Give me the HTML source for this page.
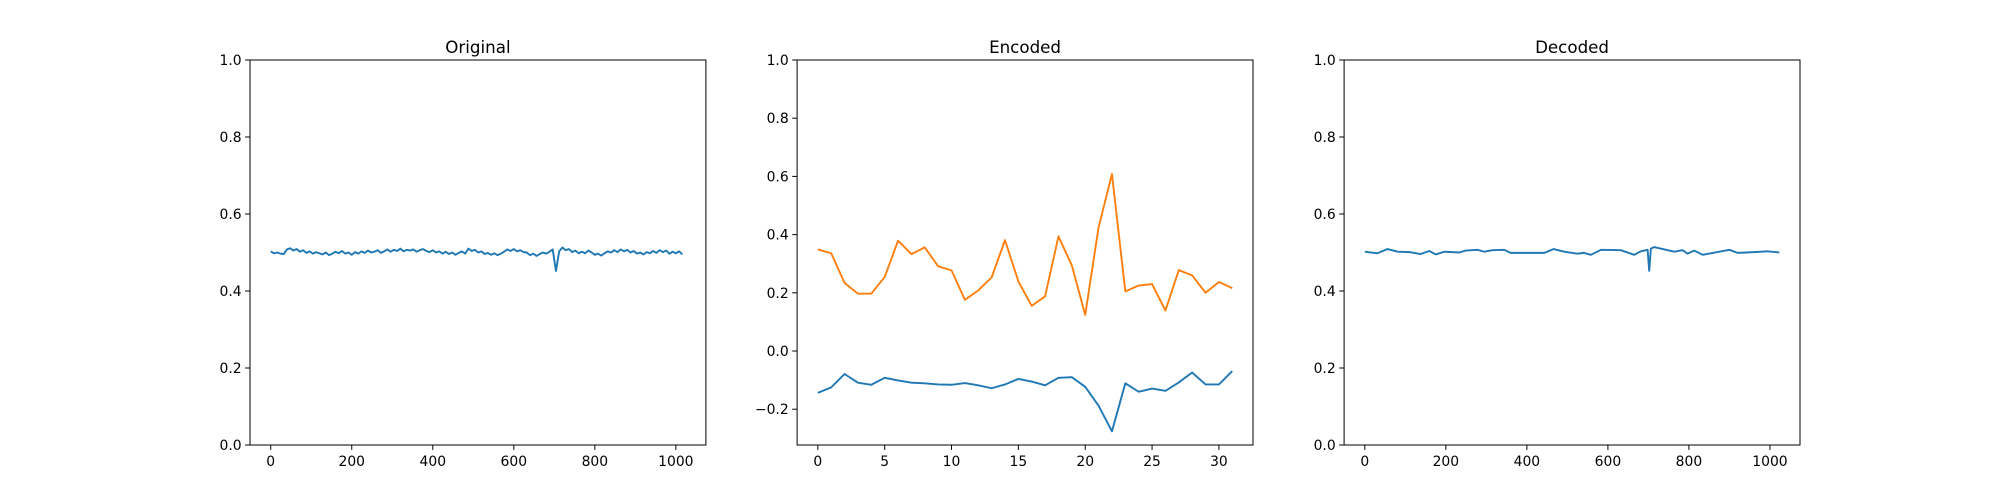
<!DOCTYPE html>
<html><head><meta charset="utf-8"><style>
html,body{margin:0;padding:0;background:#fff;}
svg{display:block;font-family:"DejaVu Sans","Liberation Sans",sans-serif;}
</style></head><body>
<svg id="fig" width="2000" height="500" viewBox="0 0 2000 500"></svg>
<script>
// ---- data ----
const encCats = [0,1,2,3,4,5,6,7,8,9,10,11,12,13,14,15,16,17,18,19,20,21,22,23,24,25,26,27,28,29,30,31];
const encBlue = [-0.144,-0.125,-0.079,-0.109,-0.116,-0.092,-0.101,-0.109,-0.111,-0.115,-0.116,-0.110,-0.118,-0.128,-0.115,-0.096,-0.105,-0.118,-0.092,-0.090,-0.123,-0.188,-0.276,-0.111,-0.140,-0.129,-0.137,-0.108,-0.074,-0.115,-0.115,-0.069];
const encOrange = [0.349,0.336,0.234,0.197,0.197,0.254,0.379,0.333,0.356,0.291,0.277,0.176,0.208,0.253,0.381,0.239,0.155,0.188,0.394,0.294,0.124,0.425,0.608,0.205,0.225,0.230,0.139,0.278,0.260,0.200,0.237,0.216];
const origStep = 8;
const origVals = [
0.503,0.498,0.500,0.497,0.496,0.508,0.511,0.505,0.509,0.502,0.506,0.499,0.503,0.497,0.501,0.498,
0.495,0.500,0.493,0.497,0.502,0.498,0.504,0.497,0.500,0.494,0.501,0.497,0.503,0.499,0.505,0.500,
0.502,0.506,0.499,0.503,0.508,0.502,0.507,0.504,0.510,0.503,0.507,0.505,0.508,0.502,0.506,0.509,
0.504,0.501,0.506,0.500,0.503,0.497,0.502,0.496,0.500,0.494,0.499,0.503,0.497,0.510,0.504,0.507,
0.500,0.503,0.496,0.499,0.494,0.498,0.493,0.497,0.502,0.508,0.504,0.509,0.503,0.506,0.501,0.500,
0.493,0.497,0.491,0.496,0.500,0.497,0.502,0.508,0.452,0.503,0.513,0.506,0.509,0.501,0.505,0.498,
0.502,0.498,0.505,0.500,0.494,0.497,0.492,0.498,0.503,0.500,0.506,0.501,0.508,0.503,0.507,0.500,
0.504,0.497,0.500,0.495,0.501,0.498,0.504,0.499,0.506,0.501,0.505,0.497,0.502,0.498,0.503,0.495];
const decX = [0,31,56,81,110,138,159,175,196,233,249,278,295,315,344,360,400,443,466,492,525,541,558,583,632,665,681,698,702,706,714,764,784,797,813,834,900,920,960,994,1023];
const decY = [0.502,0.498,0.509,0.502,0.501,0.496,0.504,0.495,0.502,0.500,0.505,0.507,0.502,0.506,0.507,0.499,0.499,0.499,0.509,0.502,0.497,0.499,0.494,0.507,0.506,0.494,0.503,0.507,0.452,0.510,0.514,0.502,0.506,0.497,0.505,0.494,0.507,0.499,0.501,0.503,0.500];
const ticks01 = [0,0.2,0.4,0.6,0.8,1.0];
const tickLbl01 = ["0.0","0.2","0.4","0.6","0.8","1.0"];
const ticksX1024 = [0,200,400,600,800,1000];
const ticksEncY = [-0.2,0,0.2,0.4,0.6,0.8,1.0];
const tickLblEncY = ["−0.2","0.0","0.2","0.4","0.6","0.8","1.0"];
const ticksEncX = [0,5,10,15,20,25,30];

const NS="http://www.w3.org/2000/svg";
const svg=document.getElementById('fig');
function mk(tag,attrs,parent){const e=document.createElementNS(NS,tag);for(const k in attrs)e.setAttribute(k,attrs[k]);(parent||svg).appendChild(e);return e;}

function panel(name,left,xmin,xmax,ymin,ymax,title,xt,xtl,yt,ytl,series){
  const top=60,bottom=445,w=455.9,right=left+w;
  const sx=v=>left+(v-xmin)/(xmax-xmin)*w;
  const sy=v=>bottom-(v-ymin)/(ymax-ymin)*(bottom-top);
  const g=mk('g',{});
  
  
  series.forEach(s=>{
    const pts=s.x.map((xv,i)=>sx(xv).toFixed(2)+','+sy(s.y[i]).toFixed(2)).join(' ');
    const pl=mk('polyline',{points:pts,fill:'none',stroke:s.color,'stroke-width':s.w||1.9,'stroke-linejoin':'round'},g);
    
    
  });
  const fr=mk('rect',{x:left,y:top,width:w,height:bottom-top,fill:'none',stroke:'#000','stroke-width':1},g);
  
  
  xt.forEach((v,i)=>{
    const x=sx(v);
    mk('line',{x1:x,x2:x,y1:bottom,y2:bottom+4.9,stroke:'#000','stroke-width':1},g);
    const t=mk('text',{x:x,y:bottom+21,'font-size':13.9,'text-anchor':'middle',fill:'#000'},g);
    t.textContent=xtl[i];
    
    
  });
  yt.forEach((v,i)=>{
    const y=sy(v);
    mk('line',{x1:left-4.9,x2:left,y1:y,y2:y,stroke:'#000','stroke-width':1},g);
    const t=mk('text',{x:left-8.4,y:y+5,'font-size':13.9,'text-anchor':'end',fill:'#000'},g);
    t.textContent=ytl[i];
    
    
  });
  const tt=mk('text',{x:left+w/2,y:top-7,'font-size':16.7,'text-anchor':'middle',fill:'#000'},g);
  tt.textContent=title;
  
  
}
const origX=origVals.map((v,i)=>Math.min(i*origStep,1023));
const xl=ticksX1024.map(String);
panel('original',250,-51.15,1074.15,0,1,'Original',ticksX1024,xl,ticks01,tickLbl01,
  [{name:'original-line',x:origX,y:origVals,color:'#1f77b4'}]);
panel('encoded',797.1,-1.55,32.55,-0.323,1.0,'Encoded',ticksEncX,ticksEncX.map(String),ticksEncY,tickLblEncY,
  [{name:'encoded-line-blue',x:encCats,y:encBlue,color:'#1f77b4'},{name:'encoded-line-orange',x:encCats,y:encOrange,color:'#ff7f0e'}]);
panel('decoded',1344.1,-51.15,1074.15,0,1,'Decoded',ticksX1024,xl,ticks01,tickLbl01,
  [{name:'decoded-line',x:decX,y:decY,color:'#1f77b4'}]);
</script>
</body></html>
